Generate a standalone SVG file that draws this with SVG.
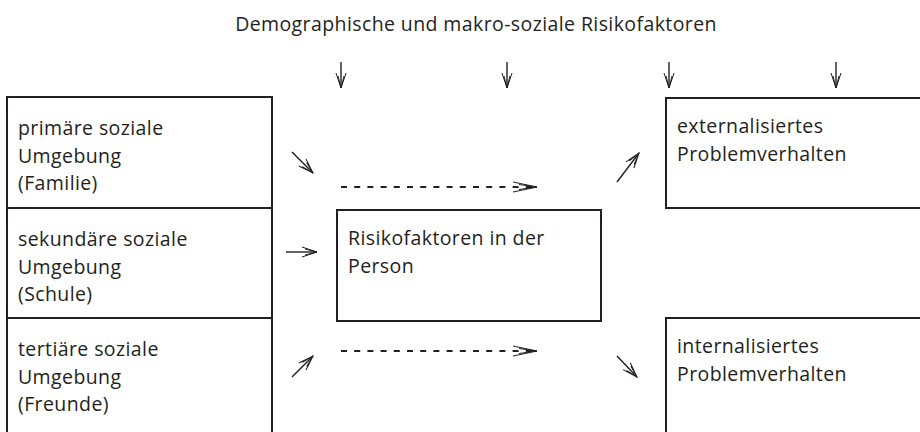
<svg xmlns="http://www.w3.org/2000/svg" width="920" height="432" viewBox="0 0 920 432">
<style>
text{font-family:"Open Sans","Liberation Sans",Arial,sans-serif;font-size:19.5px;letter-spacing:0.4px;fill:#231f20}
.box{fill:none;stroke:#231f20;stroke-width:2}
.ln{fill:none;stroke:#231f20;stroke-width:1.4}
.dash{fill:none;stroke:#231f20;stroke-width:1.8;stroke-dasharray:6,7.2}
</style>
<defs>
<marker id="ah" markerUnits="userSpaceOnUse" markerWidth="18" markerHeight="12" refX="15" refY="5" orient="auto" overflow="visible">
<path d="M0,0 L15,5 L0,10 M3,2 L15,5 L3,8" fill="none" stroke="#231f20" stroke-width="1"/>
</marker>
<marker id="ahl" markerUnits="userSpaceOnUse" markerWidth="26" markerHeight="12" refX="24" refY="5" orient="auto" overflow="visible">
<path d="M0,0 L24,5 L0,10 M6,2.5 L24,5 L6,7.5" fill="none" stroke="#231f20" stroke-width="1"/>
</marker>
</defs>
<text x="476" y="31" text-anchor="middle">Demographische und makro-soziale Risikofaktoren</text>
<g id="primaer"><rect class="box" x="7" y="97" width="265" height="111"/>
<text x="18" y="135">primäre soziale</text><text x="18" y="163">Umgebung</text><text x="18" y="190">(Familie)</text></g>
<g id="sekundaer"><rect class="box" x="7" y="208" width="265" height="110"/>
<text x="18" y="246">sekundäre soziale</text><text x="18" y="274">Umgebung</text><text x="18" y="301">(Schule)</text></g>
<g id="tertiaer"><path class="box" d="M7,440 V318 H272 V440"/>
<text x="18" y="356">tertiäre soziale</text><text x="18" y="384">Umgebung</text><text x="18" y="411">(Freunde)</text></g>
<g id="person"><rect class="box" x="337" y="210" width="264" height="111"/>
<text x="348" y="245">Risikofaktoren in der</text><text x="348" y="273">Person</text></g>
<g id="extern"><path class="box" d="M925,98 H666 V208 H925"/>
<text x="677" y="133">externalisiertes</text><text x="677" y="161">Problemverhalten</text></g>
<g id="intern"><path class="box" d="M925,318 H666 V440"/>
<text x="677" y="353">internalisiertes</text><text x="677" y="381">Problemverhalten</text></g>
<g id="connectors">
<line class="ln" x1="341" y1="62" x2="341" y2="88" marker-end="url(#ah)"/>
<line class="ln" x1="507" y1="62" x2="507" y2="88" marker-end="url(#ah)"/>
<line class="ln" x1="669" y1="62" x2="669" y2="88" marker-end="url(#ah)"/>
<line class="ln" x1="836" y1="62" x2="836" y2="88" marker-end="url(#ah)"/>
<line class="ln" x1="292" y1="152" x2="313" y2="173" marker-end="url(#ah)"/>
<line class="ln" x1="286" y1="252" x2="317" y2="252" marker-end="url(#ah)"/>
<line class="ln" x1="292" y1="377" x2="313" y2="356" marker-end="url(#ah)"/>
<line class="dash" x1="341" y1="187" x2="537" y2="187" marker-end="url(#ahl)"/>
<line class="dash" x1="341" y1="351" x2="537" y2="351" marker-end="url(#ahl)"/>
<line class="ln" x1="617" y1="182" x2="639" y2="153" marker-end="url(#ah)"/>
<line class="ln" x1="617" y1="356" x2="637" y2="377" marker-end="url(#ah)"/>
</g>
</svg>
